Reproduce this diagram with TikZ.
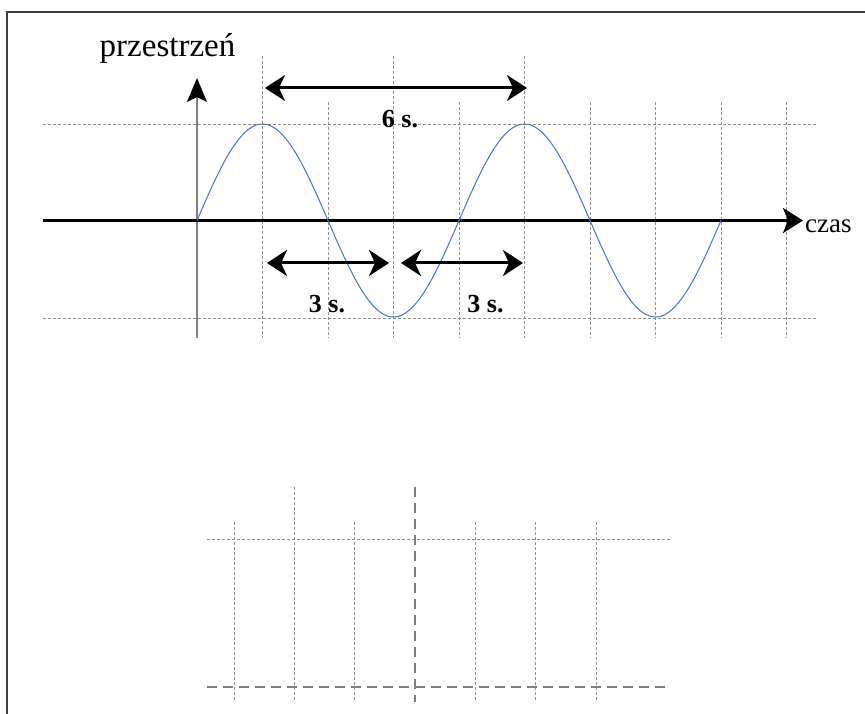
\documentclass[tikz,border=0pt]{standalone}
\usepackage{fontspec}
\setmainfont{Liberation Serif}
\usetikzlibrary{arrows.meta}
\definecolor{wave}{HTML}{4472C4}
\definecolor{gridgray}{HTML}{8C8C8C}
\definecolor{axisgray}{HTML}{7F7F7F}
\definecolor{framegray}{HTML}{404040}
\tikzset{
  thingrid/.style={gridgray, line width=0.8pt, dash pattern=on 3pt off 2pt},
  thickgrid/.style={axisgray, line width=2.8pt, dash pattern=on 10pt off 6pt},
  dimarrow/.style={black, line width=3pt,
    {Stealth[length=20pt,width=26pt,inset=6pt]}-{Stealth[length=20pt,width=26pt,inset=6pt]}},
  axislabel/.style={inner sep=0pt, font=\fontsize{33pt}{37pt}\selectfont},
  dimlabel/.style={inner sep=0pt, font=\fontsize{26pt}{30pt}\selectfont\bfseries},
}
\begin{document}
\begin{tikzpicture}[x=1pt,y=-1pt]
\useasboundingbox (0,0) rectangle (865,714);
% frame
\draw[framegray, line width=1.2pt] (7,714) -- (7,12) -- (866,12);

% ---- top graph: grid
\foreach \k in {1,3,5}{
  \draw[thingrid] ({197+65.5*\k},56) -- ({197+65.5*\k},338);
}
\foreach \k in {2,4,6,7,8,9}{
  \draw[thingrid] ({197+65.5*\k},102) -- ({197+65.5*\k},338);
}
\draw[thingrid] (43,124) -- (816,124);
\draw[thingrid] (43,318) -- (816,318);

% axes
\coordinate (ybot) at (197,338);
\coordinate (ytop) at (197,78);
\coordinate (xleft) at (43,220.5);
\coordinate (xright) at (803,220.5);
\draw[axisgray, line width=1.6pt, -{Stealth[length=24pt,width=20pt,inset=5pt,black]}] (ybot) -- (ytop);
\draw[black, line width=3pt, -{Stealth[length=20pt,width=25pt,inset=5pt]}] (xleft) -- (xright);
\node[axislabel, anchor=base] (ylab) at (167.5,57) {przestrzeń};
\node[axislabel, anchor=base west, font=\fontsize{27pt}{31pt}\selectfont] (xlab) at (805,233) {czas};

% sine wave
\draw[wave, line width=1pt] plot[domain=0:524, samples=240, smooth]
  ({197+\x},{220.5-96.5*sin(1.374046*\x)});

% dimension arrows
\coordinate (a1) at (265,88);
\coordinate (a2) at (527,88);
\draw[dimarrow] (a1) -- (a2);
\node[dimlabel, anchor=base] (l6) at (400,128) {6 s.};

\coordinate (b1) at (267,263);
\coordinate (b2) at (389,263);
\coordinate (c1) at (401,263);
\coordinate (c2) at (523,263);
\draw[dimarrow] (b1) -- (b2);
\draw[dimarrow] (c1) -- (c2);
\node[dimlabel, anchor=base] (l3a) at (327,312) {3 s.};
\node[dimlabel, anchor=base] (l3b) at (485.5,312) {3 s.};

% ---- bottom grid
\foreach \xx in {234,354.7,475.3,535.6,595.9}{
  \draw[thingrid] (\xx,522) -- (\xx,702);
}
\draw[thingrid] (294.4,487) -- (294.4,702);
\draw[thingrid] (207,539) -- (671,539);
\draw[thickgrid] (415,487) -- (415,702);
\draw[thickgrid] (207,687) -- (665,687);
\end{tikzpicture}
\end{document}
